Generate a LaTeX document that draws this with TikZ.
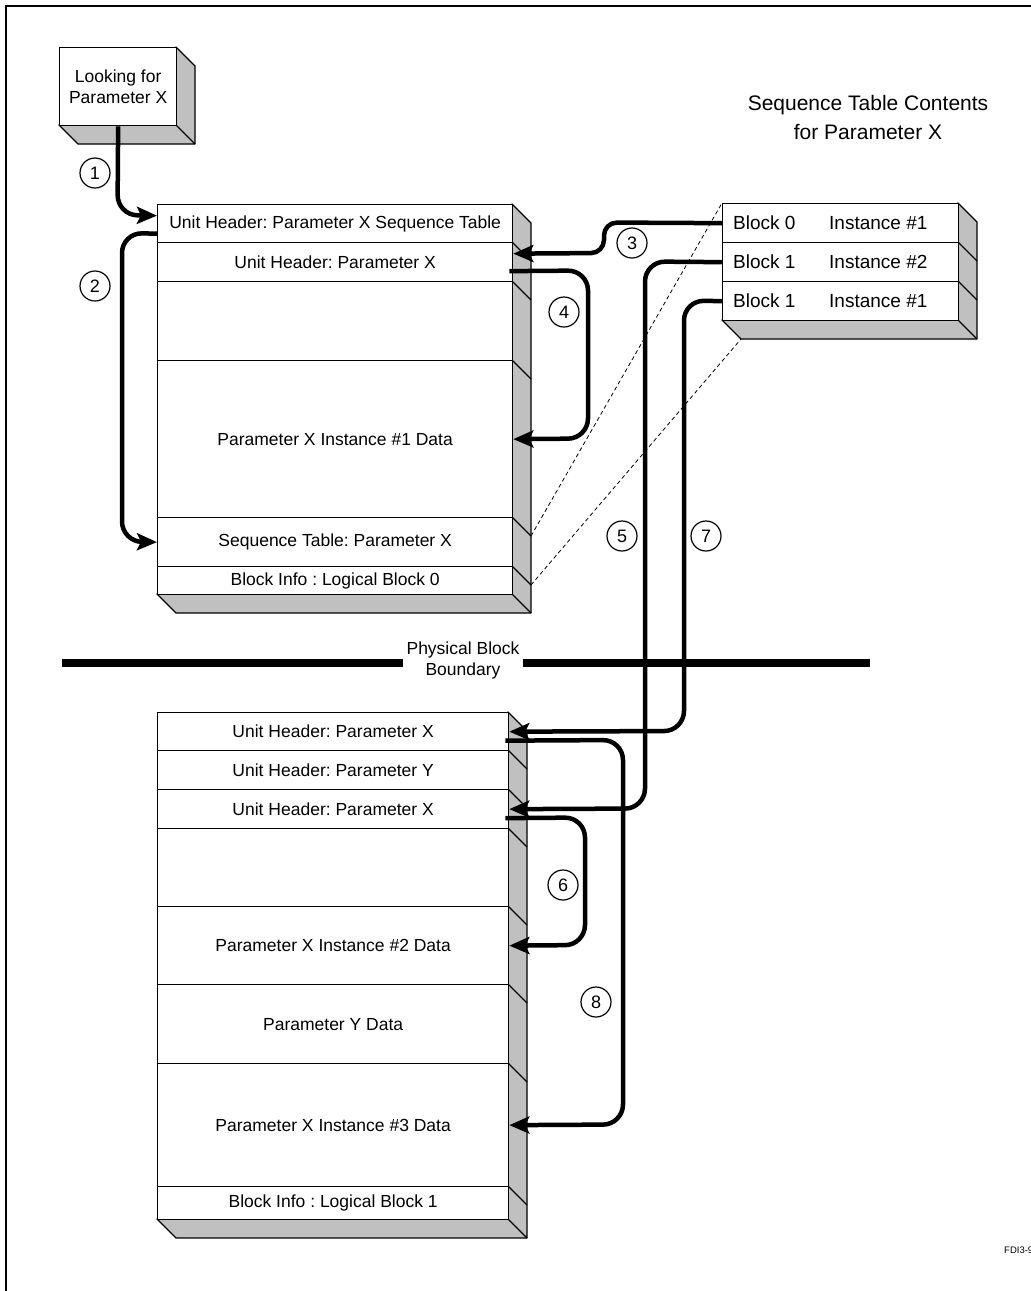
\documentclass[tikz,border=0pt]{standalone}
\usepackage{fontspec}
\setmainfont{Liberation Sans}
\usetikzlibrary{arrows.meta}
\definecolor{sidegray}{RGB}{192,192,192}
\newcommand\cuboid[4]{%
  \filldraw[side] (#3,#2) -- (#3+19,#2+19) -- (#3+19,#4+19) -- (#1+19,#4+19) -- (#1,#4) -- (#3,#4) -- cycle;
  \draw[outl] (#3,#4) -- (#3+19,#4+19);
}
\frenchspacing
\begin{document}
\frenchspacing
\begin{tikzpicture}[x=1pt,y=-1pt,
  every node/.style={font=\fontsize{17.5}{21}\selectfont},
  row/.style={draw, line width=1.3pt, fill=white, anchor=north west, inner sep=0pt, align=center},
  outl/.style={line width=1.3pt, line join=round},
  side/.style={fill=sidegray, draw, line width=1.3pt, line join=round},
  arr/.style={line width=4.5pt, rounded corners=20pt, -{Stealth[length=20pt,width=17pt,inset=4pt]}},
  num/.style={circle, draw, line width=1.2pt, minimum size=30pt, inner sep=0pt, fill=white, font=\fontsize{18}{21}\selectfont},
  dsh/.style={line width=0.8pt, dash pattern=on 4pt off 3pt},
  seqtxt/.style={anchor=west, inner sep=0pt, font=\fontsize{19}{22}\selectfont},
  bnd/.style={line width=8pt},
]
\useasboundingbox (0,0) rectangle (1031,1291);
\clip (0,0) rectangle (1031,1291);
\fill[white] (0,0) rectangle (1031,1291);
\draw[line width=2pt] (6,6) rectangle (1060,1320);

% ---- Looking box
\cuboid{59}{47}{176}{125}
\node[row, minimum width=117pt, minimum height=78pt] (look) at (59,47) {Looking for\\Parameter X};

% ---- Upper block (logical block 0)
\cuboid{157}{204}{512}{594}
\node[row, minimum width=355pt, minimum height=38pt] (u1) at (157,204) {Unit Header: Parameter X Sequence Table};
\node[row, minimum width=355pt, minimum height=39pt] (u2) at (157,242) {Unit Header: Parameter X};
\node[row, minimum width=355pt, minimum height=79pt] (u3) at (157,281) {};
\node[row, minimum width=355pt, minimum height=157pt] (u4) at (157,360) {Parameter X Instance \#1 Data};
\node[row, minimum width=355pt, minimum height=49pt] (u5) at (157,517) {Sequence Table: Parameter X};
\node[row, minimum width=355pt, minimum height=28pt] (u6) at (157,566) {Block Info : Logical Block 0};
\foreach \yy in {242,281,360,517,566} \draw[outl] (512,\yy) -- ++(19,19);

% ---- Sequence table
\cuboid{722}{203}{958}{320}
\node[row, minimum width=236pt, minimum height=39pt] (s1) at (722,203) {};
\node[row, minimum width=236pt, minimum height=39pt] (s2) at (722,242) {};
\node[row, minimum width=236pt, minimum height=39pt] (s3) at (722,281) {};
\foreach \yy in {242,281} \draw[outl] (958,\yy) -- ++(19,19);
\node[seqtxt] (b0) at ([xshift=11pt]s1.west) {Block 0};
\node[seqtxt] (i0) at ([xshift=107pt]s1.west) {Instance \#1};
\node[seqtxt] (b1) at ([xshift=11pt]s2.west) {Block 1};
\node[seqtxt] (i1) at ([xshift=107pt]s2.west) {Instance \#2};
\node[seqtxt] (b2) at ([xshift=11pt]s3.west) {Block 1};
\node[seqtxt] (i2) at ([xshift=107pt]s3.west) {Instance \#1};
\node[font=\fontsize{21}{29}\selectfont, align=center] (title) at (868,117) {Sequence Table Contents\\for Parameter X};

% ---- dashed projection lines
\coordinate (d1) at (531,536);
\coordinate (d2) at (531,585);
\coordinate (sbl) at (741,339);
\draw[dsh] (d1) -- (s1.north west);
\draw[dsh] (d2) -- (sbl);

% ---- Lower block (logical block 1)
\cuboid{157}{712}{508}{1219}
\node[row, minimum width=351pt, minimum height=38pt] (l1) at (157,712) {Unit Header: Parameter X};
\node[row, minimum width=351pt, minimum height=39pt] (l2) at (157,750) {Unit Header: Parameter Y};
\node[row, minimum width=351pt, minimum height=39pt] (l3) at (157,789) {Unit Header: Parameter X};
\node[row, minimum width=351pt, minimum height=78pt] (l4) at (157,828) {};
\node[row, minimum width=351pt, minimum height=78pt] (l5) at (157,906) {Parameter X Instance \#2 Data};
\node[row, minimum width=351pt, minimum height=79pt] (l6) at (157,984) {Parameter Y Data};
\node[row, minimum width=351pt, minimum height=123pt] (l7) at (157,1063) {Parameter X Instance \#3 Data};
\node[row, minimum width=351pt, minimum height=33pt] (l8) at (157,1186) {Block Info : Logical Block 1};
\foreach \yy in {750,789,828,906,984,1063,1186} \draw[outl] (508,\yy) -- ++(19,19);

% ---- Physical block boundary
\node[align=center] (pb) at (463,660) {Physical Block\\Boundary};
\coordinate (bl) at (62,663);
\coordinate (br) at (870,663);
\draw[bnd] (bl) -- (bl -| pb.west);
\draw[bnd] (br) -- (br -| pb.east);

% ---- arrows
\draw[arr] (look.south) -- (117.5,215) -- ([yshift=8pt]u1.west);
\draw[arr] ([yshift=-10pt]u1.west) -- (122,233) -- (122,541.5) -- (u5.west);
\draw[arr, rounded corners=13pt] (s1.west) -- (604,222.5) -- (604,253) -- ([yshift=8.5pt]u2.east);
\draw[arr] ([xshift=-4pt,yshift=-9pt]u2.east) -- (588,270.5) -- (588,438.5) -- (u4.east);
\draw[arr] (s3.west) -- (684,300.5) -- (684,731) -- (l1.east);
\draw[arr] (s2.west) -- (645,261.5) -- (645,808.5) -- (l3.east);
\draw[arr] ([xshift=-4pt,yshift=-9pt]l3.east) -- (585,817.5) -- (585,945) -- (l5.east);
\draw[arr] ([xshift=-4pt,yshift=-9pt]l1.east) -- (623,740) -- (623,1124.5) -- (l7.east);

% ---- step numbers
\node[num] (n1) at (95,173) {1};
\node[num] (n2) at (95,286) {2};
\node[num] (n3) at (632,243) {3};
\node[num] (n4) at (564,312) {4};
\node[num] (n5) at (622,536) {5};
\node[num] (n7) at (706,536) {7};
\node[num] (n6) at (563,885) {6};
\node[num] (n8) at (596,1002) {8};

\node[font=\fontsize{9.5}{11}\selectfont, anchor=west, inner sep=0pt] (fdi) at (1004,1250) {FDI3-9};
\end{tikzpicture}
\end{document}
